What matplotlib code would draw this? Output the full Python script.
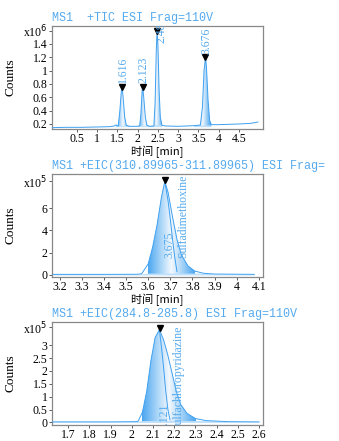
import numpy as np
import matplotlib.pyplot as plt
from matplotlib.path import Path
from matplotlib.patches import PathPatch
from matplotlib.colors import LinearSegmentedColormap

# Panel 1: TIC (x10^6 counts)
tic_t = [-0.10, 0.2, 0.6, 1.0, 1.3, 1.42, 1.46, 1.52, 1.56, 1.60, 1.616, 1.64, 1.68, 1.72, 1.80,
         2.00, 2.05, 2.08, 2.11, 2.123, 2.15, 2.19, 2.23, 2.30, 2.40, 2.43, 2.46, 2.48, 2.50,
         2.53, 2.56, 2.60, 2.70, 3.00, 3.40, 3.55, 3.60, 3.64, 3.676, 3.70, 3.74, 3.78, 3.82,
         4.00, 4.50, 4.80, 4.97]
tic_y = [0.145, 0.150, 0.150, 0.155, 0.160, 0.170, 0.185, 0.170, 0.40, 0.72, 0.76, 0.60, 0.30, 0.18, 0.165,
         0.165, 0.175, 0.35, 0.70, 0.76, 0.60, 0.30, 0.18, 0.165, 0.170, 0.50, 1.30, 1.60, 1.40,
         0.70, 0.30, 0.18, 0.170, 0.165, 0.175, 0.185, 0.45, 1.00, 1.20, 1.05, 0.55, 0.25, 0.19,
         0.190, 0.200, 0.210, 0.230]
tic_peaks = [1.616, 2.123, 2.48, 3.676]
tic_heights = [0.76, 0.76, 1.60, 1.20]
tic_labels = ['1.616', '2.123', '2.48', '3.676']
tic_label_x = [1.646, 2.153, 2.60, 3.706]
tic_label_y = [0.81, 0.81, 1.42, 1.25]

# Panel 2: EIC 310.89965-311.89965 (x10^5 counts)
e1_t = [3.17, 3.40, 3.55, 3.57, 3.60, 3.62, 3.64, 3.66, 3.675, 3.69, 3.71, 3.73, 3.75, 3.78,
        3.81, 3.85, 3.90, 4.08]
e1_y = [0.05, 0.05, 0.06, 0.10, 1.0, 2.5, 4.5, 7.0, 8.4, 7.4, 5.2, 3.2, 1.8, 0.8,
        0.35, 0.15, 0.08, 0.05]
e1_inner_t = [3.675, 3.69, 3.70, 3.71, 3.72, 3.73]
e1_inner_y = [8.4, 6.6, 5.0, 3.2, 1.6, 0.3]

# Panel 3: EIC 284.8-285.8 (x10^5 counts)
e2_t = [1.62, 1.90, 2.02, 2.03, 2.05, 2.07, 2.09, 2.11, 2.13, 2.15, 2.17, 2.19, 2.21, 2.23,
        2.26, 2.30, 2.35, 2.45, 2.60]
e2_y = [0.02, 0.02, 0.03, 0.05, 0.40, 1.20, 2.40, 3.30, 3.60, 3.20, 2.60, 1.90, 1.20, 0.70,
        0.35, 0.15, 0.07, 0.03, 0.02]
e2_inner_t = [2.13, 2.14, 2.15, 2.16, 2.17, 2.18]
e2_inner_y = [3.60, 2.90, 2.10, 1.20, 0.50, 0.10]

line_c = '#3ea0f0'
text_c = '#55aaee'
frame_c = '#888888'
tick_font = 'Liberation Serif'
mono = 'Liberation Mono'
cjk = ['Noto Sans CJK SC', 'DejaVu Sans']

fig = plt.figure(figsize=(3.39, 4.41), dpi=100)


def gradient_fill(ax, x, y, base):
    x = np.asarray(x); y = np.asarray(y)
    verts = np.vstack([np.c_[x, y], [[x[-1], base], [x[0], base]]])
    poly = PathPatch(Path(verts), facecolor='none', edgecolor='none')
    ax.add_patch(poly)
    grad = np.abs(np.linspace(-1, 1, 256))[None, :]
    grad = np.repeat(grad, 2, axis=0)
    cmap = LinearSegmentedColormap.from_list('g', ['#f2f8fe', '#9fd0f7', '#4aa6f0'])
    xi = x[y > y.max() * 0.02]
    im = ax.imshow(grad, cmap=cmap, aspect='auto', extent=(xi.min(), xi.max(), base, y.max()),
                   origin='lower', zorder=1)
    im.set_clip_path(poly)
    ax.fill_between(x, base, np.minimum(y, y.max() * 0.02 + base), color='#bfe0fa', zorder=1, lw=0)


def style(ax, xlim, ylim, xticks, yticks, ylabels, title):
    ax.set_xlim(*xlim)
    ax.set_ylim(*ylim)
    ax.set_xticks(xticks)
    ax.set_xticklabels([('%g' % v) for v in xticks], fontfamily=tick_font, fontsize=8.5)
    ax.set_yticks(yticks)
    ax.set_yticklabels(ylabels, fontfamily=tick_font, fontsize=8.5)
    ax.tick_params(direction='out', length=2, width=0.6, color='#444444', pad=1)
    for s in ax.spines.values():
        s.set_color(frame_c)
        s.set_linewidth(0.9)
    ax.set_ylabel('Counts', fontfamily=tick_font, fontsize=9.5, labelpad=5)
    ax.text(0.0, 1.015, title, transform=ax.transAxes, fontfamily=mono, fontsize=8.5,
            color=text_c, ha='left', va='bottom')


# ---- Panel 1
ax1 = fig.add_axes([0.153, 0.7075, 0.622, 0.2336])
ax1.plot(tic_t, tic_y, color=line_c, lw=0.7, zorder=3)
for k in range(len(tic_peaks)):
    i = tic_t.index(tic_peaks[k])
    lo, hi = i - 4, i + 5
    gradient_fill(ax1, tic_t[lo:hi], tic_y[lo:hi], 0.16)
ax1.plot(tic_peaks, tic_heights, 'v', color='black', ms=4, zorder=4)
for lx, ly, lab in zip(tic_label_x, tic_label_y, tic_labels):
    ax1.text(lx, ly, lab, rotation=90, fontfamily=tick_font, fontsize=8.5,
             color=text_c, ha='center', va='bottom', zorder=5, clip_on=True)
style(ax1, (-0.12, 5.09), (0.125, 1.67), [0.5, 1, 1.5, 2, 2.5, 3, 3.5, 4, 4.5],
      [0.2, 0.4, 0.6, 0.8, 1.0, 1.2, 1.4, 1.6],
      ['0.2', '0.4', '0.6', '0.8', '1', '1.2', '1.4', 'x10$^{6}$'],
      'MS1  +TIC ESI Frag=110V')
ax1.set_xlabel('时间 [min]', fontfamily=cjk, fontsize=8, labelpad=0)

# ---- Panel 2
ax2 = fig.add_axes([0.153, 0.372, 0.622, 0.2336])
gradient_fill(ax2, e1_t, e1_y, 0.0)
ax2.plot(e1_t, e1_y, color=line_c, lw=0.7, zorder=3)
ax2.plot(e1_inner_t, e1_inner_y, color=line_c, lw=0.7, zorder=3)
ax2.plot([3.675], [8.5], 'v', color='black', ms=4, zorder=4)
ax2.text(3.698, 1.5, '3.675', rotation=90, fontfamily=tick_font, fontsize=8.5,
         color=text_c, ha='center', va='bottom', zorder=5)
ax2.text(3.758, 1.5, 'Sulfadimethoxine', rotation=90, fontfamily=tick_font, fontsize=8.5,
         color=text_c, ha='center', va='bottom', zorder=5, clip_on=True)
style(ax2, (3.164, 4.118), (-0.18, 9.07), [3.2, 3.3, 3.4, 3.5, 3.6, 3.7, 3.8, 3.9, 4.0, 4.1],
      [0, 2, 4, 6, 8.4], ['0', '2', '4', '6', 'x10$^{5}$'],
      'MS1 +EIC(310.89965-311.89965) ESI Frag=')
ax2.set_xlabel('时间 [min]', fontfamily=cjk, fontsize=8, labelpad=0)

# ---- Panel 3
ax3 = fig.add_axes([0.153, 0.0363, 0.622, 0.2336])
gradient_fill(ax3, e2_t, e2_y, 0.0)
ax3.plot(e2_t, e2_y, color=line_c, lw=0.7, zorder=3)
ax3.plot(e2_inner_t, e2_inner_y, color=line_c, lw=0.7, zorder=3)
ax3.plot([2.132], [3.65], 'v', color='black', ms=4, zorder=4)
ax3.text(2.154, -0.3, '2.121', rotation=90, fontfamily=tick_font, fontsize=8.5,
         color=text_c, ha='center', va='bottom', zorder=5, clip_on=True)
ax3.text(2.22, -0.3, 'Sulfachloropyridazine', rotation=90, fontfamily=tick_font, fontsize=8.5,
         color=text_c, ha='center', va='bottom', zorder=5, clip_on=True)
style(ax3, (1.623, 2.617), (-0.1, 3.9), [1.7, 1.8, 1.9, 2.0, 2.1, 2.2, 2.3, 2.4, 2.5, 2.6],
      [0, 0.5, 1, 1.5, 2, 2.5, 3, 3.7], ['0', '0.5', '1', '1.5', '2', '2.5', '3', 'x10$^{5}$'],
      'MS1 +EIC(284.8-285.8) ESI Frag=110V')

fig.savefig('out.png', dpi=100)
